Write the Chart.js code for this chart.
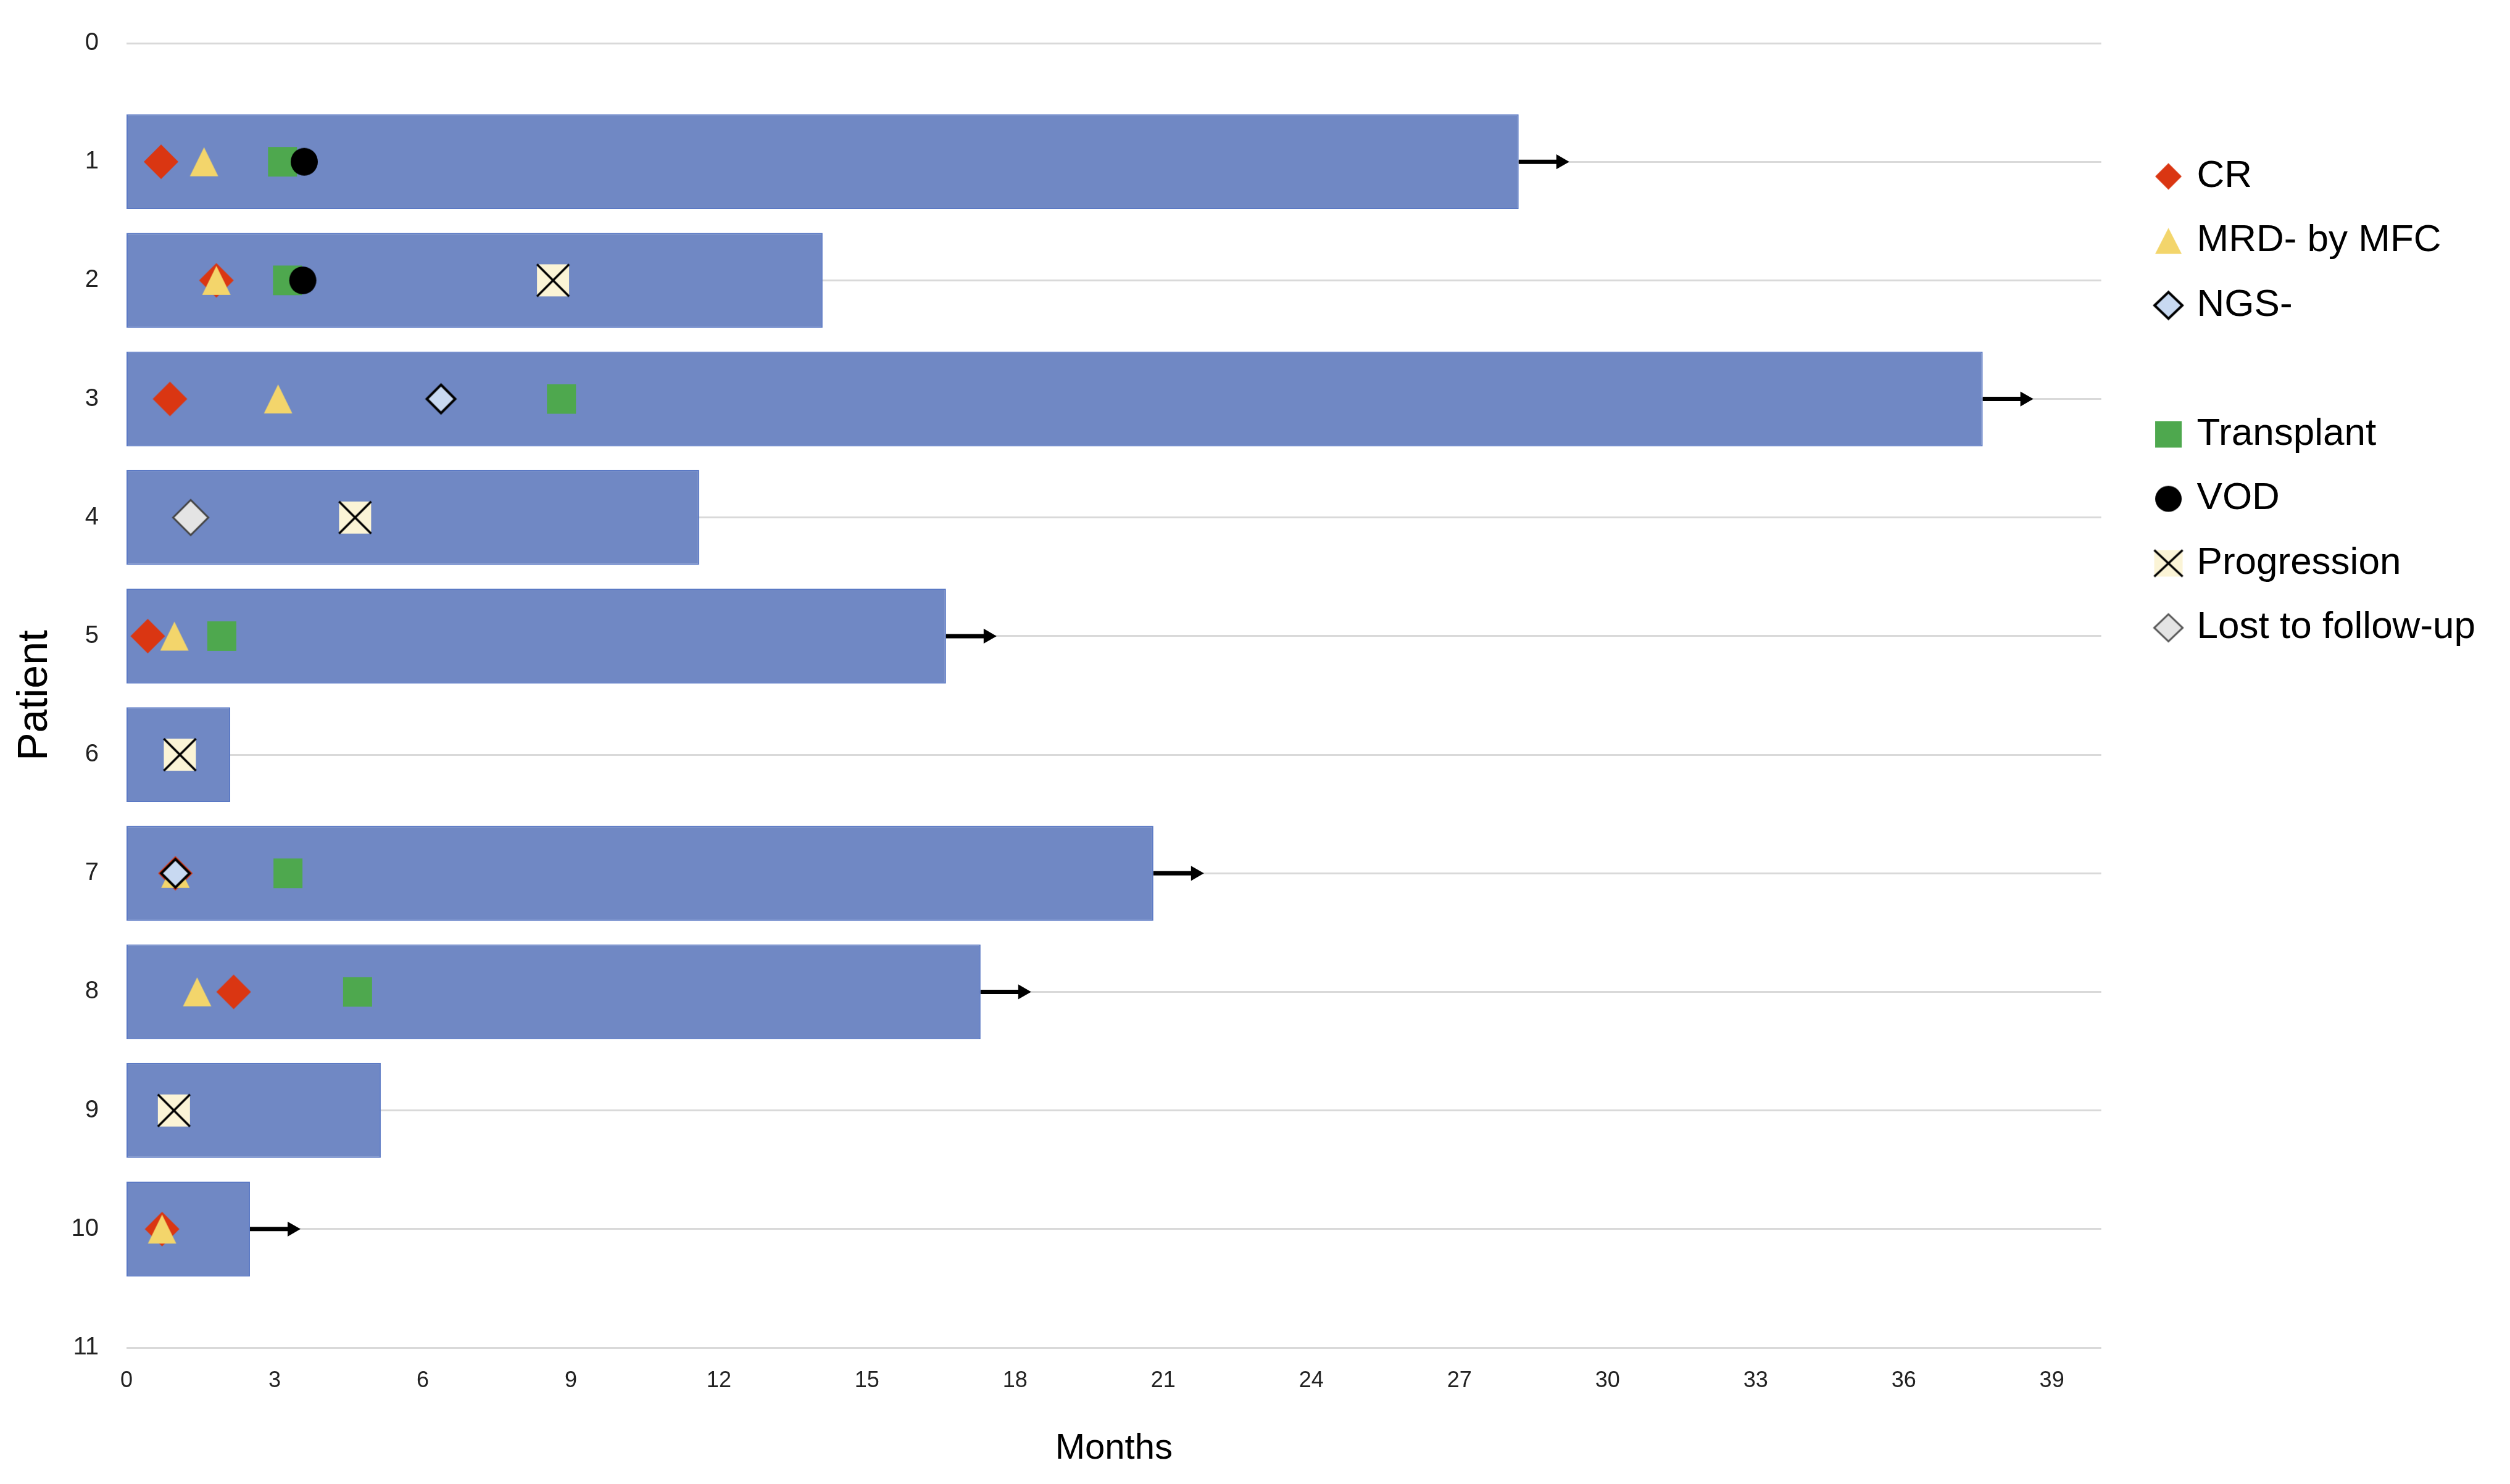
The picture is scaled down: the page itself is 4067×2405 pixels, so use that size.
<!DOCTYPE html>
<html>
<head>
<meta charset="utf-8">
<script src="https://cdn.jsdelivr.net/npm/chart.js@4.4.1/dist/chart.umd.min.js"></script>
<style>
  html, body { margin: 0; padding: 0; background: #fff; }
</style>
</head>
<body>
<canvas id="myChart" width="4067" height="2405"></canvas>
<script>
// Patients et durée de suivi (mois)
const patients = [1, 2, 3, 4, 5, 6, 7, 8, 9, 10];
const followUp = [28.2, 14.1, 37.6, 11.6, 16.6, 2.1, 20.8, 17.3, 5.15, 2.5];

// Graduations
const monthTicks = [0, 3, 6, 9, 12, 15, 18, 21, 24, 27, 30, 33, 36, 39];
const patientTicks = [0, 1, 2, 3, 4, 5, 6, 7, 8, 9, 10, 11];

// Fleches = suivi en cours
const arrowRows = [1, 3, 5, 7, 8, 10];
const arrowStart = [28.2, 37.6, 16.6, 20.8, 17.3, 2.5];
const arrowEnd = [29.05, 38.45, 17.45, 21.65, 18.15, 3.35];

// Evenements (patient, mois)
const crRows = [1, 2, 3, 5, 7, 8, 10];
const crMonths = [0.7, 1.82, 0.88, 0.43, 0.99, 2.17, 0.72];

const mrdRows = [1, 2, 3, 5, 7, 8, 10];
const mrdMonths = [1.57, 1.82, 3.07, 0.97, 0.99, 1.43, 0.72];

const ngsRows = [3, 7];
const ngsMonths = [6.37, 0.99];

const transplantRows = [1, 2, 3, 5, 7, 8];
const transplantMonths = [3.16, 3.26, 8.81, 1.93, 3.27, 4.68];

const vodRows = [1, 2];
const vodMonths = [3.6, 3.57];

const progressionRows = [2, 4, 6, 9];
const progressionMonths = [8.64, 4.63, 1.08, 0.96];

const lostRows = [4];
const lostMonths = [1.3];

const legendLabels = ['CR', 'MRD- by MFC', 'NGS-', '', 'Transplant', 'VOD', 'Progression', 'Lost to follow-up'];

// Dessine un symbole dans un petit canvas (utilisé comme pointStyle)
function makeIcon(kind, w, h, fill, stroke, lw) {
  const pad = Math.ceil(lw) + 2;
  const c = document.createElement('canvas');
  c.width = w + 2 * pad;
  c.height = h + 2 * pad;
  const g = c.getContext('2d');
  g.translate(pad, pad);
  g.beginPath();
  if (kind === 'diamond') {
    g.moveTo(w / 2, 0); g.lineTo(w, h / 2); g.lineTo(w / 2, h); g.lineTo(0, h / 2); g.closePath();
  } else if (kind === 'triangle') {
    g.moveTo(w / 2, 0); g.lineTo(w, h); g.lineTo(0, h); g.closePath();
  } else if (kind === 'circle') {
    g.ellipse(w / 2, h / 2, w / 2, h / 2, 0, 0, 2 * Math.PI);
  } else {
    g.rect(0, 0, w, h);
  }
  g.fillStyle = fill;
  g.fill();
  if (lw > 0) {
    g.lineWidth = lw;
    g.strokeStyle = stroke;
    g.stroke();
  }
  if (kind === 'xbox') {
    g.beginPath();
    g.moveTo(0, 0); g.lineTo(w, h);
    g.moveTo(w, 0); g.lineTo(0, h);
    g.lineWidth = 3.5;
    g.strokeStyle = '#000';
    g.stroke();
  }
  return c;
}

const RED = '#DA3612';
const YELLOW = '#F3D56B';
const NGSBLUE = '#C8D9F1';
const GREEN = '#4EA84E';
const CREAM = '#FBF4D6';
const GREY = '#E4E4E4';

// symboles du graphique
const crIcon = makeIcon('diamond', 56, 56, RED, null, 0);
const mrdIcon = makeIcon('triangle', 46, 47, YELLOW, null, 0);
const ngsIcon = makeIcon('diamond', 46, 46, NGSBLUE, '#000', 4);
const transplantIcon = makeIcon('rect', 47, 48, GREEN, null, 0);
const vodIcon = makeIcon('circle', 44, 45, '#000', null, 0);
const progressionIcon = makeIcon('xbox', 52, 52, CREAM, null, 0);
const lostIcon = makeIcon('diamond', 57, 57, GREY, '#444', 3);

// symboles de la légende
const legendIcons = [
  makeIcon('diamond', 43, 43, RED, null, 0),
  makeIcon('triangle', 43, 42, YELLOW, null, 0),
  makeIcon('diamond', 45, 43, NGSBLUE, '#000', 4),
  makeIcon('rect', 1, 1, 'rgba(0,0,0,0)', null, 0),
  makeIcon('rect', 43, 43, GREEN, null, 0),
  makeIcon('circle', 43, 42, '#000', null, 0),
  makeIcon('xbox', 46, 43, CREAM, null, 0),
  makeIcon('diamond', 46, 44, GREY, '#555', 3)
];

function points(rows, months) {
  return rows.map((r, i) => ({ x: months[i], y: r }));
}

function markers(label, rows, months, icon, order) {
  return {
    type: 'scatter',
    label: label,
    data: points(rows, months),
    pointStyle: icon,
    pointRadius: 3,
    order: order
  };
}

const datasets = [
  {
    type: 'bar',
    label: 'Follow-up',
    data: points(patients, followUp),
    indexAxis: 'y',
    backgroundColor: '#7088C4',
    borderColor: '#5B79C4',
    borderWidth: 2,
    borderSkipped: false,
    categoryPercentage: 1,
    barPercentage: 0.8,
    order: 100
  }
];

arrowRows.forEach((r, i) => {
  datasets.push({
    type: 'line',
    label: 'arrow',
    data: [{ x: arrowStart[i], y: r }, { x: arrowEnd[i], y: r }],
    borderColor: '#000',
    borderWidth: 7,
    pointStyle: 'triangle',
    pointRotation: 90,
    pointRadius: [0, 14],
    pointBackgroundColor: '#000',
    pointBorderWidth: 0,
    order: 90
  });
});

datasets.push(markers('Progression', progressionRows, progressionMonths, progressionIcon, 80));
datasets.push(markers('Lost to follow-up', lostRows, lostMonths, lostIcon, 75));
datasets.push(markers('Transplant', transplantRows, transplantMonths, transplantIcon, 70));
datasets.push(markers('VOD', vodRows, vodMonths, vodIcon, 60));
datasets.push(markers('CR', crRows, crMonths, crIcon, 50));
datasets.push(markers('MRD- by MFC', mrdRows, mrdMonths, mrdIcon, 40));
datasets.push(markers('NGS-', ngsRows, ngsMonths, ngsIcon, 30));

var ctx = document.getElementById('myChart').getContext('2d');
var myChart = new Chart(ctx, {
  type: 'bar',
  data: { datasets: datasets },
  options: {
    indexAxis: 'y',
    responsive: false,
    animation: false,
    events: [],
    layout: { padding: { top: 70, right: 46, bottom: 0, left: 0 } },
    plugins: {
      tooltip: { enabled: false },
      // espace vide entre le graphique et la légende
      title: {
        display: true,
        position: 'right',
        text: ' ',
        weight: 500,
        font: { size: 12 },
        padding: { top: 18, bottom: 19 }
      },
      legend: {
        position: 'right',
        align: 'start',
        title: { display: true, text: ' ', font: { size: 12 }, padding: { top: 128, bottom: 0 } },
        labels: {
          usePointStyle: true,
          boxWidth: 30,
          boxHeight: 30,
          padding: 42.5,
          color: '#000',
          font: { family: '"Liberation Sans", Arial, sans-serif', size: 62 },
          generateLabels: function() {
            return legendLabels.map((t, i) => ({
              text: t,
              pointStyle: legendIcons[i],
              fillStyle: 'rgba(0,0,0,0)',
              strokeStyle: 'rgba(0,0,0,0)',
              fontColor: '#000',
              lineWidth: 0,
              hidden: false,
              datasetIndex: 0
            }));
          }
        }
      }
    },
    scales: {
      x: {
        type: 'linear',
        min: 0,
        max: 40,
        offset: false,
        grid: { display: false, drawTicks: false },
        border: { display: false },
        afterBuildTicks: function(scale) {
          scale.ticks = monthTicks.map(v => ({ value: v }));
        },
        afterFit: function(scale) {
          scale.height = 221;
        },
        ticks: {
          padding: 32,
          color: '#222',
          font: { family: '"Liberation Sans", Arial, sans-serif', size: 36 }
        },
        title: {
          display: true,
          text: 'Months',
          color: '#000',
          font: { family: '"Liberation Sans", Arial, sans-serif', size: 58 },
          padding: { top: 10, bottom: 22 }
        }
      },
      y: {
        type: 'linear',
        reverse: true,
        min: 0,
        max: 11,
        offset: false,
        grid: { color: '#D9D9D9', lineWidth: 3, drawTicks: false, offset: false },
        border: { display: false },
        afterBuildTicks: function(scale) {
          scale.ticks = patientTicks.map(v => ({ value: v }));
        },
        afterFit: function(scale) {
          scale.width = 205;
        },
        ticks: {
          padding: 45,
          color: '#222',
          font: { family: '"Liberation Sans", Arial, sans-serif', size: 40 }
        },
        title: {
          display: true,
          text: 'Patient',
          color: '#000',
          font: { family: '"Liberation Sans", Arial, sans-serif', size: 68 },
          padding: { top: 16, bottom: 0 }
        }
      }
    }
  }
});
</script>
</body>
</html>
